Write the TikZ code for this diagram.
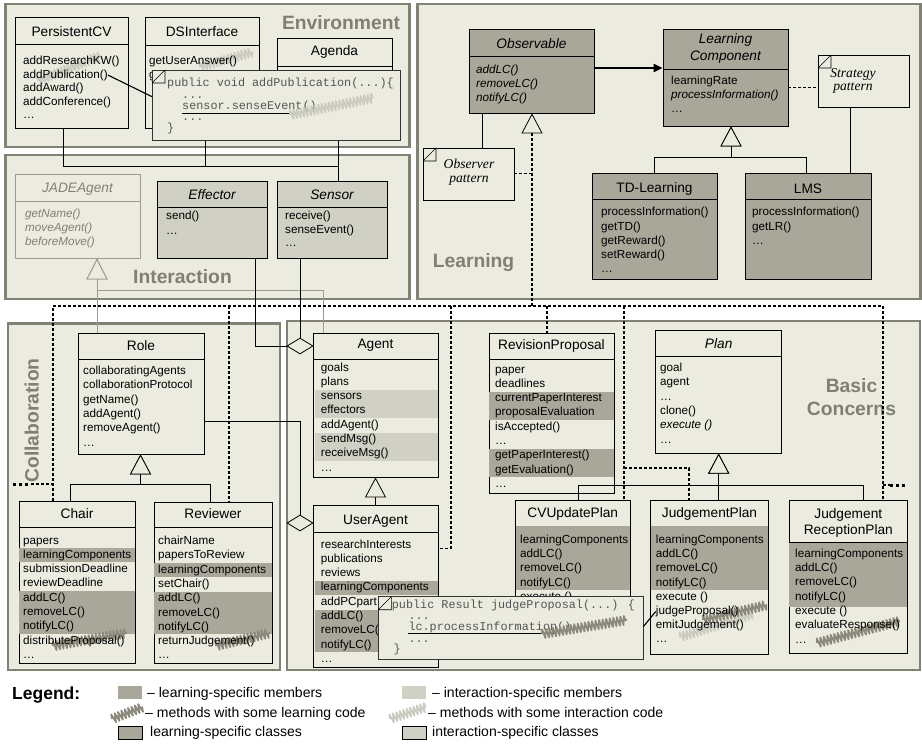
\documentclass[tikz,border=0pt]{standalone}
\usepackage{fontspec}
\setmainfont{Liberation Sans}
\newfontfamily\codefont{Liberation Mono}
\newfontfamily\patfont{Liberation Serif}
\usetikzlibrary{arrows.meta,fit,shapes.geometric,decorations.pathmorphing}

\definecolor{bgc}{RGB}{236,235,224}
\definecolor{framec}{RGB}{130,130,116}
\definecolor{lblc}{RGB}{128,128,114}
\definecolor{learnc}{RGB}{168,167,153}
\definecolor{interc}{RGB}{209,208,197}
\definecolor{jadec}{RGB}{155,155,145}
\definecolor{jadetxt}{RGB}{128,128,120}
\definecolor{codec}{RGB}{85,85,85}
\definecolor{scribd}{RGB}{138,137,124}
\definecolor{scribl}{RGB}{203,203,193}

% class box: name, style, x1, y1, x2, y2, divider y
\newcommand{\uclass}[7]{%
  \node[#2, fit={(#3,#4) (#5,#6)}] (#1) {};
  \draw[divline] (#3,#7) -- (#5,#7);
}
% member list: [style], prefix, x, first baseline, step, items
\newcommand{\mlist}[6][]{%
  \foreach \mitem [count=\idx from 0] in {#6} {
    \node[mem,#1] (#2-\idx) at (#3, {#4+#5*\idx}) {\mitem};
  }
}
% highlighted member rows: colour, x1, x2, y1, y2
\newcommand{\band}[5]{\fill[#1] (#2,#4) rectangle (#3,#5);}
% hatch mark for methods with crosscutting code
\newcommand{\scrib}[5]{\draw[#1, line width=1.7pt, line join=round, decorate,
  decoration={zigzag, segment length=3.6pt, amplitude=4.5pt}] (#2,#3) -- (#4,#5);}
% folded-corner mark of notes
\newcommand{\cornermark}[2]{\draw[line width=0.6pt] (#1,{#2+13}) -- ({#1+13},{#2+13}) -- ({#1+13},#2)
  (#1,{#2+13}) -- ({#1+13},#2);}

\begin{document}
\begin{tikzpicture}[x=1pt, y=-1pt,
  pkg/.style={draw=framec, line width=2.6pt, fill=bgc, inner sep=0pt},
  pkglabel/.style={text=lblc, font=\fontsize{19.3}{22.3}\selectfont\bfseries, inner sep=0pt, align=center},
  cls/.style={draw=black, line width=0.8pt, fill=bgc, inner sep=0pt},
  lcls/.style={cls, fill=learnc},
  icls/.style={cls, fill=interc},
  gcls/.style={cls, draw=jadec},
  divline/.style={draw=black, line width=0.8pt},
  cname/.style={font=\fontsize{13.7}{17}\selectfont, inner sep=0pt, align=center},
  cnamei/.style={font=\fontsize{13.7}{17}\selectfont\itshape, inner sep=0pt, align=center},
  mem/.style={font=\fontsize{11.7}{14}\selectfont, inner sep=0pt, anchor=base west},
  memi/.style={font=\fontsize{11.7}{14}\selectfont\itshape},
  codeln/.style={font=\codefont\fontsize{11.8}{13}\selectfont, text=codec, inner sep=0pt, anchor=base west},
  notebox/.style={draw=black!80, line width=0.7pt, fill=bgc, inner sep=0pt},
  patbox/.style={draw=black, line width=0.7pt, fill=bgc, inner sep=0pt},
  pattxt/.style={font=\patfont\itshape\fontsize{13.6}{13.5}\selectfont, align=center, inner sep=0pt},
  conn/.style={draw=black, line width=0.8pt},
  gconn/.style={draw=jadec, line width=0.9pt},
  dashlink/.style={draw=black, line width=1.2pt, dash pattern=on 3pt off 2pt},
  dotend/.style={draw=black, line width=3pt, dash pattern=on 3pt off 3pt},
  genarrow/.style={-{Triangle[length=20pt, width=21pt, fill=bgc, line width=0.8pt]}},
  ggenarrow/.style={-{Triangle[length=21pt, width=21pt, fill=bgc, line width=0.9pt]}},
  aggr/.style={diamond, draw=black, line width=0.8pt, fill=bgc, minimum width=26pt, minimum height=16pt, inner sep=0pt},
  leg/.style={font=\fontsize{14}{16}\selectfont, inner sep=0pt, anchor=base west},
  swatch/.style={inner sep=0pt, minimum width=24pt, minimum height=13pt, anchor=north west}
]
\useasboundingbox (0,0) rectangle (922,749);

% ---------------- packages ----------------
\node[pkg, fit={(5.5,4) (409.5,147)}] (envpkg) {};
\node[pkg, fit={(5.5,155) (409.5,299)}] (intpkg) {};
\node[pkg, fit={(417.5,4) (920.5,299)}] (lrnpkg) {};
\node[pkg, fit={(8,323.5) (280,670)}] (colpkg) {};
\node[pkg, fit={(287,321) (920,670)}] (bcpkg) {};

\node[pkglabel] (envlbl) at (341,23) {Environment};
\node[pkglabel] (intlbl) at (182.5,277) {Interaction};
\node[pkglabel] (lrnlbl) at (473.5,263) {Learning};
\node[pkglabel, rotate=90] (collbl) at (31.7,420.5) {Collaboration};
\node[pkglabel] (bclbl) at (851.5,397) {Basic\\Concerns};

% ---------------- Environment ----------------
\uclass{cv}{cls}{15}{17}{128}{128}{44}
\node[cname] (cv-t) at (71.5,31.5) {PersistentCV};
\scrib{scribl}{38}{81}{100}{56}
\mlist{cv}{23}{64.5}{13.6}{addResearchKW(), addPublication(), addAward(), addConference(), …}

\uclass{dsi}{cls}{145}{17}{259}{128}{45}
\node[cname] (dsi-t) at (202,31.5) {DSInterface};
\scrib{scribl}{200}{67}{253}{52}
\mlist{dsi}{149}{64.5}{13.6}{getUserAnswer(), g}

\uclass{agenda}{cls}{277}{38}{392}{132}{66}
\node[cname] (agenda-t) at (334.5,52) {Agenda};

% ---------------- Interaction ----------------
\node[gcls, fit={(15,174) (140,258)}] (jade) {};
\draw[draw=jadec, line width=0.8pt] (15,201) -- (140,201);
\node[cnamei, text=jadetxt] (jade-t) at (77.5,189.5) {JADEAgent};
\mlist[memi, text=jadetxt]{jade}{25}{217.5}{14}{getName(), moveAgent(), beforeMove()}

\uclass{eff}{icls}{157}{181}{267}{258}{207}
\node[cnamei] (eff-t) at (212,194.5) {Effector};
\mlist{eff}{166}{220}{14.5}{send(), …}

\uclass{sen}{icls}{277}{181}{387}{258}{207}
\node[cnamei] (sen-t) at (332,194.5) {Sensor};
\mlist{sen}{285}{220}{13.4}{receive(), senseEvent(), …}

% ---------------- Learning ----------------
\uclass{obs}{lcls}{469}{29}{594}{113}{56}
\node[cnamei] (obs-t) at (531.5,43.5) {Observable};
\mlist[memi]{obs}{476}{73.5}{13.8}{addLC(), removeLC(), notifyLC()}

\uclass{lc}{lcls}{663}{29}{788}{126}{69}
\node[cnamei] (lc-t) at (725.5,48.5) {Learning\\Component};
\mlist{lc}{671}{84.5}{14}{learningRate, {\itshape processInformation()}, …}

\node[patbox, fit={(818,55) (909,107)}] (strat) {};
\cornermark{818}{55}
\node[pattxt] (strat-t) at (853,81) {Strategy\\pattern};

\node[patbox, fit={(423,148) (514,200)}] (obsv) {};
\cornermark{423}{148}
\node[pattxt] (obsv-t) at (469,172) {Observer\\pattern};

\uclass{td}{lcls}{592}{173}{717}{279}{199}
\node[cname] (td-t) at (654.5,189) {TD-Learning};
\mlist{td}{601}{216}{14.2}{processInformation(), getTD(), getReward(), setReward(), …}

\uclass{lms}{lcls}{745}{173}{871}{279}{199}
\node[cname] (lms-t) at (808,189) {LMS};
\mlist{lms}{752}{216}{14.2}{processInformation(), getLR(), …}

% ---------------- Collaboration ----------------
\uclass{role}{cls}{78}{333}{204}{454}{359}
\node[cname] (role-t) at (141,345.5) {Role};
\mlist{role}{83}{374.5}{14.3}{collaboratingAgents, collaborationProtocol, getName(), addAgent(), removeAgent(), …}

\uclass{chair}{cls}{19}{501}{135}{663}{527}
\band{learnc}{19.4}{134.6}{548.3}{562.1}
\band{learnc}{19.4}{134.6}{591.2}{633.6}
\node[cname] (chair-t) at (77,513.5) {Chair};
\scrib{scribd}{53}{646}{127}{633}
\mlist{chair}{23}{544}{14.3}{papers, learningComponents, submissionDeadline, reviewDeadline, addLC(), removeLC(), notifyLC(), distributeProposal(), …}

\uclass{rev}{cls}{154}{502}{272}{663}{527}
\band{learnc}{154.4}{271.6}{563.1}{576.9}
\band{learnc}{154.4}{271.6}{591.7}{634.1}
\node[cname] (rev-t) at (213,514) {Reviewer};
\scrib{scribd}{216}{646}{270}{633}
\mlist{rev}{158}{544.5}{14.3}{chairName, papersToReview, learningComponents, setChair(), addLC(), removeLC(), notifyLC(), returnJudgement(), …}

% ---------------- Basic concerns ----------------
\uclass{agent}{cls}{313}{333}{438}{477}{359}
\band{interc}{315}{437.6}{389.6}{417.7}
\band{interc}{315}{437.6}{432.5}{460.6}
\node[cname] (agent-t) at (375.5,345.5) {Agent};
\mlist{agent}{320.7}{371}{14.3}{goals, plans, sensors, effectors, addAgent(), sendMsg(), receiveMsg(), …}

\uclass{ua}{cls}{313}{505}{438}{667}{532}
\band{learnc}{315}{437.6}{580.9}{594.7}
\band{learnc}{315}{437.6}{609.5}{651.9}
\node[cname] (ua-t) at (375.5,521) {UserAgent};
\mlist{ua}{320.7}{548}{14.3}{researchInterests, publications, reviews, learningComponents, addPCpart, addLC(), removeLC(), notifyLC(), …}

\uclass{rp}{cls}{489}{333}{614}{493}{359}
\band{learnc}{489.4}{613.6}{391.6}{419.7}
\band{learnc}{489.4}{613.6}{448.8}{476.9}
\node[cname] (rp-t) at (551.5,345.5) {RevisionProposal};
\mlist{rp}{495}{373}{14.3}{paper, deadlines, currentPaperInterest, proposalEvaluation, isAccepted(), …, getPaperInterest(), getEvaluation(), …}

\uclass{plan}{cls}{655.7}{330.7}{781.7}{453.3}{356}
\node[cnamei] (plan-t) at (718.7,343.5) {Plan};
\mlist{plan}{660}{371.5}{14.3}{goal, agent, …, clone(), {\itshape execute ()}, …}

\uclass{cvu}{cls}{515.7}{500.7}{630}{650}{526}
\band{learnc}{516.1}{629.6}{526.4}{590}
\node[cname] (cvu-t) at (572.8,513.5) {CVUpdatePlan};
\mlist{cvu}{520}{543.5}{14.2}{learningComponents, addLC(), removeLC(), notifyLC(), execute ()}

\uclass{jp}{cls}{650.7}{500.7}{768.3}{654}{526}
\band{learnc}{651.1}{767.9}{526.4}{590}
\node[cname] (jp-t) at (709.5,513.5) {JudgementPlan};
\scrib{scribl}{680}{637}{753}{614}
\scrib{scribd}{703}{620}{767}{605}
\mlist{jp}{655.7}{543.5}{14.2}{learningComponents, addLC(), removeLC(), notifyLC(), execute (), judgeProposal(), emitJudgement(), …}

\uclass{jrp}{cls}{789}{500.7}{907.7}{653.3}{542.7}
\band{learnc}{789.4}{907.3}{543.1}{606.7}
\node[cname, font=\fontsize{13.7}{16}\selectfont] (jrp-t) at (848.3,523) {Judgement\\ReceptionPlan};
\scrib{scribd}{817}{643}{900}{621}
\mlist{jrp}{795}{557.3}{14.3}{learningComponents, addLC(), removeLC(), notifyLC(), execute (), evaluateResponse(), …}

% aggregation diamonds at Agent and UserAgent
\node[aggr] (dA) at (300,346) {};
\node[aggr] (dB) at (300,523) {};

% ---------------- connectors ----------------
\coordinate (envbus) at (338,166.7);
\coordinate (xcv) at (63,0);
\coordinate (xds) at (205,0);
\draw[conn] (cv.south -| xcv) |- (envbus);
\draw[conn] (dsi.south -| xds) -- (xds |- envbus);
\draw[conn] (agenda.south -| envbus) -- (sen.north -| envbus);

\coordinate (jbus) at (97,290.7);
\coordinate (xag) at (323.3,0);
\draw[gconn, ggenarrow] (role.north -| jbus) -- (jade.south -| jbus);
\draw[gconn, ggenarrow] (agent.north -| xag) |- (jbus) -- (jade.south -| jbus);

\coordinate (xeff) at (255,0);
\draw[conn] (eff.south -| xeff) |- (dA.west);
\draw[conn] (sen.south -| dA.north) -- (dA.north);

\coordinate (rolebus) at (300,421);
\draw[conn] (role.east |- rolebus) -| (dB.north);

\coordinate (rbus) at (140.5,484);
\coordinate (xch) at (70,0);
\coordinate (xrv) at (210,0);
\draw[conn, genarrow] (chair.north -| xch) |- (rbus) -- (role.south -| rbus);
\draw[conn, genarrow] (rev.north -| xrv) |- (rbus) -- (role.south -| rbus);
\draw[conn, genarrow] (ua.north) -- (agent.south);

\coordinate (pbus) at (718.7,485);
\coordinate (xcvu) at (578,0);
\coordinate (xjrp) at (863,0);
\draw[conn, genarrow] (cvu.north -| xcvu) |- (pbus) -- (plan.south);
\draw[conn, genarrow] (jp.north -| pbus) -- (plan.south);
\draw[conn, genarrow] (jrp.north -| xjrp) |- (pbus) -- (plan.south);

\coordinate (lbus) at (731,157);
\coordinate (xlms) at (806,0);
\draw[conn, genarrow] (td.north) |- (lbus) -- (lc.south -| lbus);
\draw[conn, genarrow] (lms.north -| xlms) |- (lbus) -- (lc.south -| lbus);

\coordinate (obsA) at ([yshift=3pt]obs.east);
\draw[line width=2pt, -{Triangle[length=9pt, width=8pt]}] (obsA) -- (obsA -| lc.west);
\coordinate (xobv) at (482,0);
\draw[conn] (obs.south -| xobv) -- (obsv.north -| xobv);
\coordinate (lcS) at ([yshift=-10.5pt]lc.east);
\draw[dashlink, line width=1pt] (lcS) -- (lcS -| strat.west);
\coordinate (xst) at (850.7,0);
\draw[conn, line width=1.4pt] (strat.south -| xst) -- (lms.north -| xst);

% role bindings of the Observer pattern
\coordinate (b53) at (53,306);
\coordinate (b229) at (229,306);
\coordinate (b451) at (451,306);
\coordinate (b532) at (532,306);
\coordinate (b547) at (547,306);
\coordinate (b624) at (624,306);
\coordinate (b883) at (883,306);
\draw[dashlink, line width=1pt] (obsv.east) -- (obsv.east -| b532);
\draw[dashlink] (chair.north -| b53) -- (b53) -- (b883) -- (jrp.north -| b883);
\draw[dashlink] (b229) -- (rev.north -| b229);
\draw[dashlink, genarrow] (b532) -- (obs.south -| b532);
\draw[dashlink] (b547) -- (rp.north -| b547);
\coordinate (uaR) at (438,548.3);
\draw[dashlink] (b451) |- (uaR);
\coordinate (d1) at (624,468);
\coordinate (d2) at (689,468);
\draw[dashlink] (b624) -- (cvu.north -| b624);
\draw[dashlink] (d1) -- (d2) -- (jp.north -| d2);
\coordinate (eL) at (13,484);
\coordinate (eLm) at (31,484);
\draw[dashlink] (eLm) -- (eLm -| b53);
\draw[dotend] (eL) -- (eLm);
\coordinate (eR) at (908,485);
\coordinate (eRm) at (890,485);
\draw[dashlink] (eRm -| b883) -- (eRm);
\draw[dotend] (eRm) -- (eR);

% ---------------- code notes ----------------
\node[notebox, fit={(152,70) (400,140)}] (note1) {};
\cornermark{152}{70}
\node[codeln] (n1-0) at (167,87) {public void addPublication(...)\{};
\node[codeln] (n1-1) at (182,98.5) {...};
\node[codeln] (n1-2) at (182,110) {sensor.senseEvent()};
\node[codeln] (n1-3) at (182,121) {...};
\node[codeln] (n1-4) at (167,132) {\}};
\draw[line width=0.7pt] (182,113) -- (300,113);
\scrib{scribl}{290}{115}{373}{98}
\coordinate (n1pin) at (152,96.7);
\draw[conn, line width=1.1pt] (cv-1.east) -- (n1pin);

\node[notebox, fit={(378.3,596.7) (643.3,659)}] (note2) {};
\cornermark{378.3}{596.7}
\node[codeln] (n2-0) at (391.7,608.3) {public Result judgeProposal(...) \{};
\node[codeln] (n2-1) at (408.3,619.5) {...};
\node[codeln] (n2-2) at (408.3,630) {lc.processInformation()};
\node[codeln] (n2-3) at (408.3,642) {...};
\node[codeln] (n2-4) at (393.3,652.5) {\}};
\draw[line width=0.7pt] (408.3,633.5) -- (555,633.5);
\scrib{scribd}{542}{634}{627}{620}
\coordinate (n2pin) at (643.3,626.7);
\draw[conn, line width=1.1pt] (n2pin) -- (jp-5.west);

% ---------------- legend ----------------
\node[font=\fontsize{17.5}{19}\selectfont\bfseries, inner sep=0pt, anchor=base west] (legend) at (12,699.5) {Legend:};
\node[swatch, fill=learnc] (sw1) at (118,686) {};
\node[leg] (lg1) at (147,697.5) {– learning-specific members};
\node[swatch, fill=interc] (sw2) at (402,686) {};
\node[leg] (lg2) at (432,697.5) {– interaction-specific members};
\scrib{scribd}{112}{719}{143}{707}
\node[leg] (lg3) at (145,717) {– methods with some learning code};
\scrib{scribl}{390}{719}{426}{707}
\node[leg] (lg4) at (428,717) {– methods with some interaction code};
\node[swatch, lcls, minimum height=13pt] (sw3) at (118,726) {};
\node[leg] (lg5) at (150,736.5) {learning-specific classes};
\node[swatch, icls, minimum height=13pt] (sw4) at (402,726) {};
\node[leg] (lg6) at (432,736.5) {interaction-specific classes};
\end{tikzpicture}
\end{document}
